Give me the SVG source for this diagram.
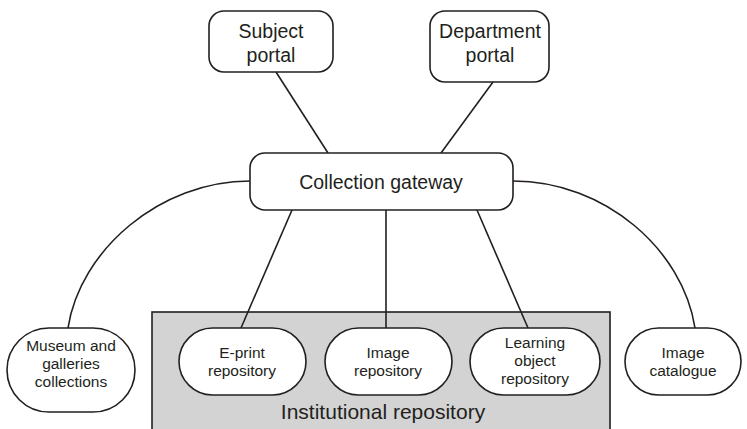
<svg xmlns="http://www.w3.org/2000/svg" width="747" height="429" viewBox="0 0 747 429">
  <style>
    .box { fill: #ffffff; stroke: #231f20; stroke-width: 1.6; }
    .area { fill: #d3d3d3; stroke: #231f20; stroke-width: 1.6; }
    .link { fill: none; stroke: #231f20; stroke-width: 1.6; }
    text { font-family: "Liberation Sans", Arial, sans-serif; fill: #231f20; text-anchor: middle; }
    .big { font-size: 19.5px; }
    .small { font-size: 15.5px; }
    .label { font-size: 21px; }
  </style>

  <!-- container for the repository services -->
  <g id="institutional-repository">
    <rect class="area" x="152" y="312" width="458" height="130"/>
    <text class="label" x="383" y="419">Institutional repository</text>
  </g>

  <g id="connectors">
    <line class="link" x1="276" y1="72" x2="328" y2="153"/>
    <line class="link" x1="493" y1="82" x2="441" y2="153"/>
    <line class="link" x1="292" y1="210" x2="241" y2="328"/>
    <line class="link" x1="386" y1="210" x2="386" y2="328"/>
    <line class="link" x1="477" y1="210" x2="528" y2="328"/>
    <path class="link" d="M250,181 C160,181 80,250 68,328"/>
    <path class="link" d="M513,181 C605,181 683,250 695,328"/>
  </g>

  <g id="subject-portal">
    <rect class="box" x="209" y="11" width="124" height="61" rx="15"/>
    <text class="big" x="271" y="38">Subject</text>
    <text class="big" x="271" y="62">portal</text>
  </g>

  <g id="department-portal">
    <rect class="box" x="430" y="11" width="119" height="71" rx="15"/>
    <text class="big" x="490" y="38">Department</text>
    <text class="big" x="490" y="62">portal</text>
  </g>

  <g id="collection-gateway">
    <rect class="box" x="250" y="153" width="263" height="57" rx="15"/>
    <text class="big" x="381" y="189">Collection gateway</text>
  </g>

  <g id="museum-galleries">
    <rect class="box" x="7" y="328" width="128" height="84" rx="42"/>
    <text class="small" x="71" y="351">Museum and</text>
    <text class="small" x="71" y="369">galleries</text>
    <text class="small" x="71" y="387">collections</text>
  </g>

  <g id="eprint-repository">
    <rect class="box" x="179" y="328" width="127" height="67" rx="33.5"/>
    <text class="small" x="242" y="358">E-print</text>
    <text class="small" x="242" y="376">repository</text>
  </g>

  <g id="image-repository">
    <rect class="box" x="325" y="328" width="127" height="67" rx="33.5"/>
    <text class="small" x="388" y="358">Image</text>
    <text class="small" x="388" y="376">repository</text>
  </g>

  <g id="learning-object-repository">
    <rect class="box" x="470" y="328" width="130" height="67" rx="33.5"/>
    <text class="small" x="535" y="348">Learning</text>
    <text class="small" x="535" y="366">object</text>
    <text class="small" x="535" y="384">repository</text>
  </g>

  <g id="image-catalogue">
    <rect class="box" x="625" y="328" width="116" height="67" rx="33.5"/>
    <text class="small" x="683" y="358">Image</text>
    <text class="small" x="683" y="376">catalogue</text>
  </g>
</svg>
